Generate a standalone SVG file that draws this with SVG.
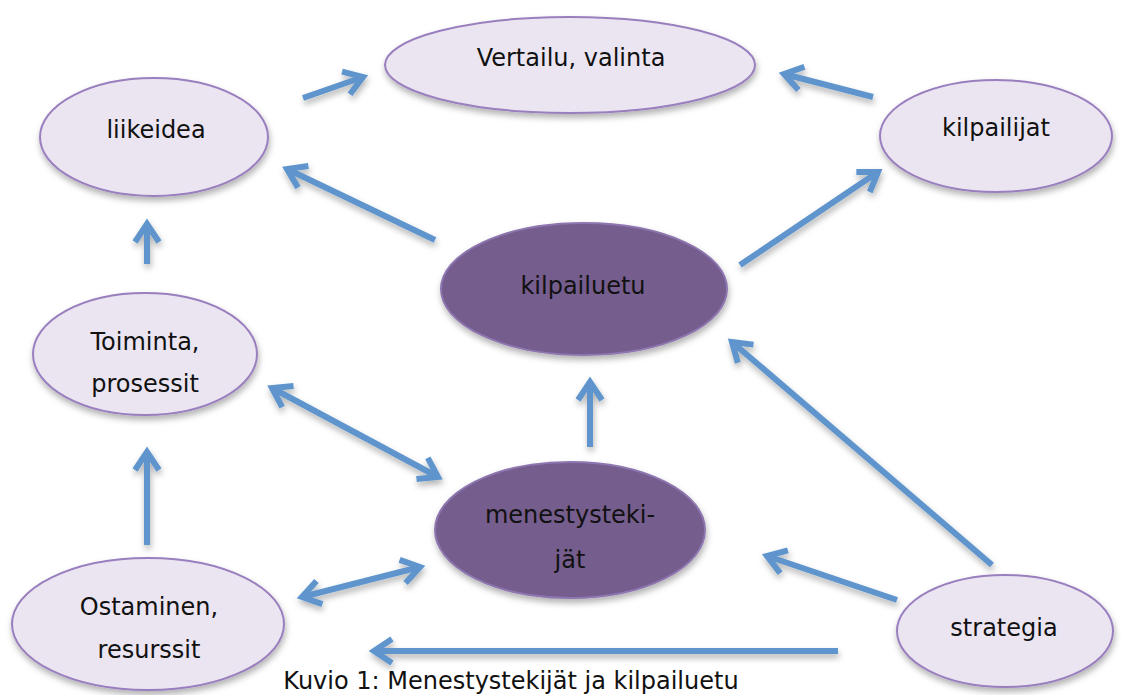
<svg xmlns="http://www.w3.org/2000/svg" width="1128" height="695" viewBox="0 0 1128 695">
<style>
.n{fill:#ebe5f1;stroke:#9a7fbf;stroke-width:2}
.d{fill:#745d8e;stroke:#8e76b0;stroke-width:2}
.t{font-family:"DejaVu Sans",Verdana,sans-serif;font-size:24px;fill:#111;text-anchor:middle}
.c{fill:none;stroke:#5e95cc;stroke-width:6}
</style>
<defs>
<filter id="sh" x="-10%" y="-10%" width="130%" height="140%">
<feDropShadow dx="1" dy="4" stdDeviation="3" flood-color="#000" flood-opacity="0.3"/>
</filter>
<marker id="ah" markerUnits="userSpaceOnUse" markerWidth="34" markerHeight="34" viewBox="0 0 34 34" refX="27" refY="17" orient="auto-start-reverse">
<path d="M9,5 L27,17 L9,29" fill="none" stroke="#5e95cc" stroke-width="6"/>
</marker>
</defs>
<rect width="1128" height="695" fill="#fff"/>
<g id="connectors" filter="url(#sh)">
<path class="c" d="M303,98 L363,77" marker-end="url(#ah)"/>
<path class="c" d="M873,97 L784,74" marker-end="url(#ah)"/>
<path class="c" d="M435,240 L287,169" marker-end="url(#ah)"/>
<path class="c" d="M740,265 L878,172" marker-end="url(#ah)"/>
<path class="c" d="M147,264 L147,224" marker-end="url(#ah)"/>
<path class="c" d="M272,388 L438,477" marker-start="url(#ah)" marker-end="url(#ah)"/>
<path class="c" d="M590,447 L590,382" marker-end="url(#ah)"/>
<path class="c" d="M992,565 L732,342" marker-end="url(#ah)"/>
<path class="c" d="M147,545 L147,452" marker-end="url(#ah)"/>
<path class="c" d="M302,597 L420,567" marker-start="url(#ah)" marker-end="url(#ah)"/>
<path class="c" d="M897,600 L767,556" marker-end="url(#ah)"/>
<path class="c" d="M838,651 L374,651" marker-end="url(#ah)"/>
</g>
<g id="vertailu"><ellipse class="n" cx="570" cy="65" rx="185" ry="48" filter="url(#sh)"/><text class="t" x="571" y="66">Vertailu, valinta</text></g>
<g id="liikeidea"><ellipse class="n" cx="154" cy="137" rx="114" ry="59" filter="url(#sh)"/><text class="t" x="156" y="138">liikeidea</text></g>
<g id="kilpailijat"><ellipse class="n" cx="996" cy="136" rx="116" ry="56" filter="url(#sh)"/><text class="t" x="996" y="136">kilpailijat</text></g>
<g id="kilpailuetu"><ellipse class="d" cx="584" cy="289" rx="143" ry="66" filter="url(#sh)"/><text class="t" x="583" y="294">kilpailuetu</text></g>
<g id="toiminta"><ellipse class="n" cx="145" cy="354" rx="112" ry="61" filter="url(#sh)"/><text class="t" x="145" y="350">Toiminta,</text><text class="t" x="145" y="392">prosessit</text></g>
<g id="menestystekijat"><ellipse class="d" cx="570" cy="530" rx="135" ry="68" filter="url(#sh)"/><text class="t" x="570" y="523">menestysteki-</text><text class="t" x="570" y="568">jät</text></g>
<g id="ostaminen"><ellipse class="n" cx="148" cy="624" rx="136" ry="66" filter="url(#sh)"/><text class="t" x="149" y="615">Ostaminen,</text><text class="t" x="149" y="658">resurssit</text></g>
<g id="strategia"><ellipse class="n" cx="1005" cy="631" rx="108" ry="56" filter="url(#sh)"/><text class="t" x="1004" y="636">strategia</text></g>
<text class="t" x="511" y="689">Kuvio 1: Menestystekijät ja kilpailuetu</text>
</svg>
